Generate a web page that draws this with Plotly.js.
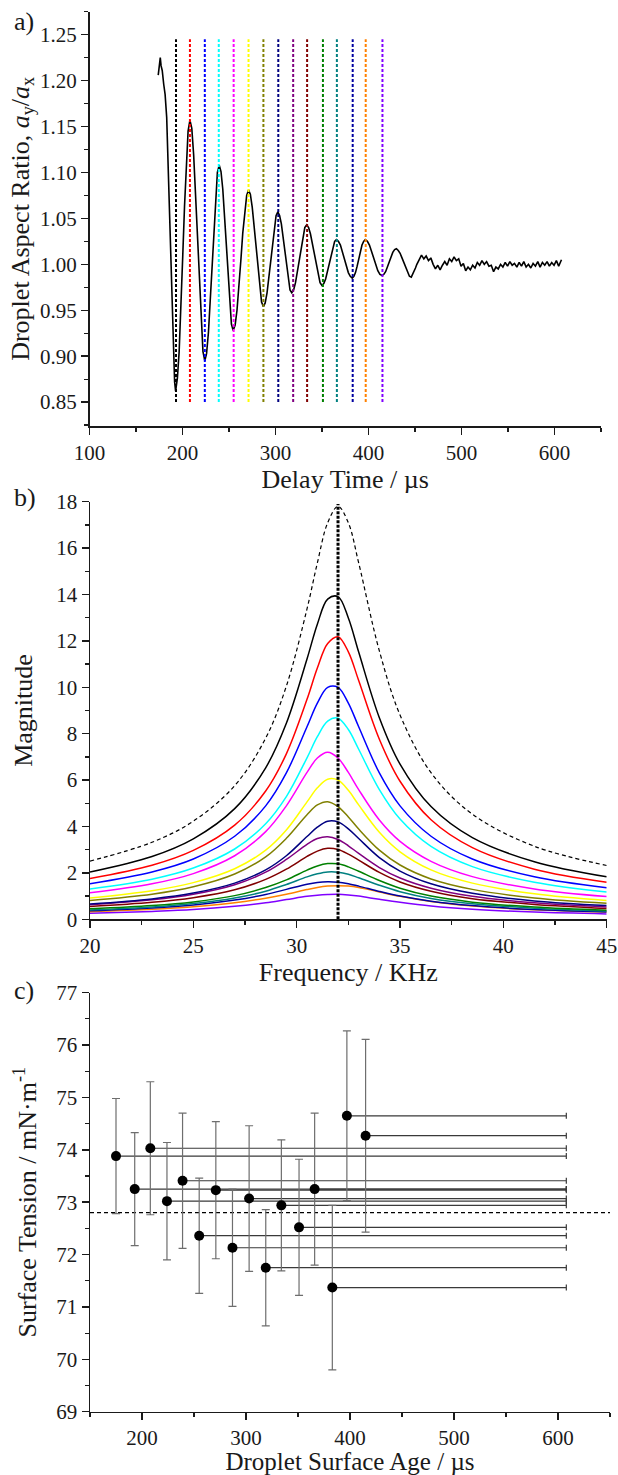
<!DOCTYPE html>
<html><head><meta charset="utf-8">
<script src="https://cdn.plot.ly/plotly-3.0.1.min.js"></script>
<style>html,body{margin:0;padding:0;background:#fff}#chart{width:618px;height:1475px}</style>
</head><body><div id="chart"></div>
<script>
// ---------- Panel a: droplet aspect ratio vs delay time ----------
const A_TIME = [173.9,175.2,176.1,177.0,178.2,179.8,181.3,183.0,184.7,186.5,188.3,190.1,191.5,192.6,
194.5,196.4,198.3,200.3,202.2,204.1,206.0,208.0,
210.0,212.0,214.0,216.0,218.0,220.0,222.0,224.0,
225.9,227.9,229.8,231.8,233.7,235.6,237.5,239.5,
241.4,243.3,245.1,247.0,248.9,250.8,252.6,254.5,
256.6,258.6,260.7,262.8,264.8,266.9,269.0,271.0,
273.0,275.0,277.0,279.0,281.0,283.0,285.0,287.0,
288.9,290.9,292.8,294.8,296.7,298.6,300.6,302.5,
304.4,306.3,308.1,310.0,311.9,313.8,315.6,317.5,
319.5,321.5,323.5,325.5,327.5,329.5,331.5,333.5,
335.6,337.6,339.7,341.8,343.8,345.9,347.9,350.0,
351.9,353.9,355.8,357.8,359.7,361.6,363.6,365.5,
367.6,369.8,371.9,374.0,376.1,378.3,380.4,382.5,
384.3,386.0,387.8,389.5,391.3,393.0,394.8,396.5,
398.8,401.0,403.3,405.5,407.8,410.0,412.3,414.5,
416.4,418.4,420.3,422.3,424.2,426.1,428.1,430.0,
432.0,434.0,436.0,438.0,440.0,442.0,444.0,446.0,
447.5,449.0,450.5,452.0,454.5,457.0,
459.5,462,464.5,467,469.5,472,474.5,477,479.5,482,484.5,487,489.5,492,494.5,497,499.5,502,504.5,507,509.5,
512,514.5,517,519.5,522,524.5,527,529.5,532,534.5,537,539.5,542,544.5,547,549.5,552,554.5,557,559.5,562,
564.5,567,569.5,572,574.5,577,579.5,582,584.5,587,589.5,592,594.5,597,599.5,602,604.5,607.5];
const A_RATIO = [1.206,1.221,1.225,1.216,1.211,1.196,1.185,1.160,1.103,1.040,0.970,0.906,0.872,0.862,
0.876,0.905,0.950,1.010,1.064,1.114,1.145,1.157,
1.148,1.119,1.075,1.026,0.977,0.933,0.905,0.895,
0.903,0.926,0.960,1.002,1.043,1.077,1.100,1.108,
1.101,1.082,1.052,1.018,0.984,0.954,0.935,0.928,
0.934,0.950,0.975,1.005,1.034,1.059,1.075,1.081,
1.076,1.062,1.041,1.018,0.994,0.973,0.959,0.954,
0.958,0.969,0.986,1.006,1.025,1.042,1.053,1.057,
1.053,1.044,1.030,1.013,0.996,0.982,0.972,0.969,
0.972,0.980,0.992,1.006,1.020,1.032,1.040,1.043,
1.040,1.033,1.022,1.010,0.998,0.987,0.980,0.977,
0.979,0.984,0.992,1.002,1.012,1.020,1.025,1.027,
1.025,1.021,1.014,1.006,0.998,0.991,0.987,0.985,
0.987,0.991,0.998,1.006,1.014,1.021,1.025,1.027,
1.025,1.021,1.014,1.007,0.999,0.993,0.989,0.988,
0.989,0.992,0.997,1.003,1.008,1.013,1.016,1.017,
1.015,1.012,1.007,1.002,0.996,0.990,0.987,0.986,
0.989,0.992,0.996,1.000,1.006,1.010,
1.006,1.009,1.004,1.007,1.000,0.995,0.999,0.994,0.999,1.003,0.999,1.006,1.003,1.008,1.004,1.006,0.998,1.001,0.993,0.997,0.994,
0.999,0.996,1.002,0.999,1.004,1.000,1.003,0.998,0.999,0.992,0.997,0.995,1.000,0.997,1.002,0.998,1.003,0.999,1.001,0.997,1.002,
0.998,1.003,0.997,1.000,0.996,1.001,0.998,1.003,0.997,1.002,0.999,1.003,0.998,1.002,0.999,1.004,0.998,1.005];
const MARK_TIMES = [193,208,224,239,255,271,287,303,319,334,351,366,383,397,415];
const MARK_RANGE = [0.85,1.245];
const MODE_COLORS = ['#000000','#ff0000','#0000ff','#00ffff','#ff00ff','#ffff00','#808000','#000080',
                     '#800080','#800000','#008000','#008080','#0000a0','#ff8000','#8000ff'];

// ---------- Panel b: magnitude spectra ----------
const FREQ = [20,23,25,27,28.5,29.5,30.5,31,31.5,32,32.5,33,34,35,36.5,38.5,41.5,45];
const MAG_SUM    = [2.51,3.32,4.23,5.76,7.81,10.05,13.38,15.36,17.09,17.80,17.09,15.36,11.57,8.81,6.32,4.53,3.15,2.32];
const MAG_BLACK  = [2.04,2.71,3.47,4.77,6.53,8.45,11.22,12.72,13.80,13.91,12.99,11.52,8.69,6.69,4.86,3.52,2.48,1.83];
const MAG_RED    = [1.76,2.33,2.97,4.06,5.53,7.13,9.48,10.83,11.89,12.18,11.53,10.29,7.76,5.95,4.29,3.09,2.16,1.60];
const MAG_BLUE   = [1.53,2.04,2.60,3.58,4.89,6.31,8.30,9.32,10.00,10.00,9.32,8.30,6.31,4.89,3.58,2.60,1.83,1.36];
const MAG_CYAN   = [1.31,1.73,2.21,3.03,4.12,5.29,6.96,7.87,8.54,8.67,8.18,7.33,5.59,4.32,3.14,2.27,1.60,1.18];
const MAG_MAGENTA= [1.14,1.53,1.97,2.74,3.78,4.89,6.33,6.95,7.20,6.95,6.33,5.59,4.28,3.36,2.50,1.84,1.31,0.98];
const MAG_YELLOW = [0.92,1.23,1.58,2.18,2.98,3.85,5.06,5.67,6.04,6.00,5.56,4.93,3.75,2.91,2.13,1.56,1.10,0.81];
const MAG_OLIVE  = [0.81,1.08,1.40,1.95,2.69,3.49,4.51,4.93,5.07,4.86,4.41,3.89,2.98,2.34,1.74,1.29,0.92,0.69];
const MAG_NAVY   = [0.66,0.88,1.13,1.56,2.13,2.74,3.57,3.97,4.23,4.20,3.90,3.48,2.66,2.08,1.53,1.12,0.79,0.59];
const MAG_PURPLE = [0.63,0.84,1.08,1.49,2.03,2.58,3.23,3.48,3.56,3.44,3.17,2.84,2.23,1.78,1.34,0.99,0.71,0.53];
const MAG_WINE   = [0.55,0.73,0.93,1.27,1.72,2.16,2.71,2.94,3.06,3.01,2.81,2.55,2.02,1.61,1.21,0.89,0.64,0.47];
const MAG_GREEN  = [0.45,0.59,0.75,1.02,1.37,1.70,2.12,2.30,2.40,2.39,2.26,2.07,1.67,1.34,1.00,0.74,0.53,0.39];
const MAG_TEAL   = [0.40,0.53,0.68,0.92,1.21,1.50,1.83,1.96,2.04,2.03,1.94,1.79,1.47,1.19,0.90,0.67,0.48,0.36];
const MAG_ROYAL  = [0.37,0.49,0.62,0.83,1.07,1.29,1.51,1.59,1.62,1.60,1.53,1.43,1.20,1.00,0.78,0.59,0.42,0.32];
const MAG_ORANGE = [0.33,0.43,0.54,0.71,0.91,1.08,1.28,1.37,1.43,1.45,1.43,1.37,1.18,0.99,0.77,0.57,0.41,0.31];
const MAG_VIOLET = [0.26,0.34,0.42,0.56,0.71,0.85,0.99,1.04,1.07,1.08,1.05,1.00,0.86,0.73,0.57,0.43,0.31,0.23];
const PEAK_FREQ = 32.0;
const PEAK_RANGE = [0,17.9];

// ---------- Panel c: surface tension vs surface age ----------
const AGE       = [175,193,208,224,239,255,271,287,303,319,334,351,366,383,397,415];
const SIGMA     = [73.88,73.25,74.03,73.02,73.41,72.36,73.23,72.13,73.07,71.75,72.94,72.52,73.25,71.37,74.65,74.27];
const SIGMA_ERR = [1.10,1.08,1.27,1.12,1.29,1.10,1.31,1.12,1.39,1.11,1.25,1.30,1.45,1.57,1.62,1.84];
const AGE_ERR   = [433,415,400,384,369,353,337,321,305,289,274,257,242,225,211,193];
const SIGMA_REF = 72.8;
const AGE_SPAN  = [150,650];

// ---------- layout helpers ----------
const W = 618, H = 1475;
const xd = (l, r) => [l / W, r / W];
const yd = (t, b) => [(H - b) / H, (H - t) / H];
const FONT = 'Liberation Serif, Times New Roman, serif';
const INK = '#1a1a1a';

function axis(extra) {
  const base = {
    showgrid: false, zeroline: false, showline: true, linecolor: INK, linewidth: 1.5,
    ticks: 'outside', ticklen: 7, tickwidth: 1.5, tickcolor: INK,
    tickfont: {family: FONT, size: 21, color: INK},
    fixedrange: true
  };
  return Object.assign(base, extra);
}
function minor(dt) { return {ticks: 'outside', ticklen: 4, tickwidth: 1.2, tickcolor: INK, dtick: dt, showgrid: false}; }
const TFONT = {family: FONT, size: 26, color: INK};
const TFONT_C = {family: FONT, size: 25, color: INK};

const traces = [];
// panel a
traces.push({x: A_TIME, y: A_RATIO, xaxis: 'x', yaxis: 'y', mode: 'lines',
  line: {color: '#000', width: 1.6}, hoverinfo: 'skip'});
MARK_TIMES.forEach((t, i) => traces.push({x: [t, t], y: MARK_RANGE, xaxis: 'x', yaxis: 'y', mode: 'lines',
  line: {color: MODE_COLORS[i], width: 2, dash: '3px,2px'}, hoverinfo: 'skip'}));

// panel b
const MAGS = [MAG_BLACK, MAG_RED, MAG_BLUE, MAG_CYAN, MAG_MAGENTA, MAG_YELLOW, MAG_OLIVE, MAG_NAVY,
              MAG_PURPLE, MAG_WINE, MAG_GREEN, MAG_TEAL, MAG_ROYAL, MAG_ORANGE, MAG_VIOLET];
MAGS.slice().reverse().forEach((m, k) => {
  const i = MAGS.length - 1 - k;
  traces.push({x: FREQ, y: m, xaxis: 'x2', yaxis: 'y2', mode: 'lines',
    line: {color: MODE_COLORS[i], width: 1.5, shape: 'spline', smoothing: 1}, hoverinfo: 'skip'});
});
traces.push({x: FREQ, y: MAG_SUM, xaxis: 'x2', yaxis: 'y2', mode: 'lines',
  line: {color: '#000', width: 1.2, dash: '4px,3px', shape: 'spline', smoothing: 1}, hoverinfo: 'skip'});
traces.push({x: [PEAK_FREQ, PEAK_FREQ], y: PEAK_RANGE, xaxis: 'x2', yaxis: 'y2', mode: 'lines',
  line: {color: '#000', width: 3, dash: '3px,1.5px'}, hoverinfo: 'skip'});

// panel c
traces.push({x: AGE_SPAN, y: [SIGMA_REF, SIGMA_REF], xaxis: 'x3', yaxis: 'y3', mode: 'lines',
  line: {color: '#000', width: 1.2, dash: '4px,3px'}, hoverinfo: 'skip'});
traces.push({x: AGE, y: SIGMA, xaxis: 'x3', yaxis: 'y3', mode: 'markers',
  marker: {color: '#000', size: 10},
  error_y: {type: 'data', array: SIGMA_ERR, visible: true, color: '#6e6e6e', thickness: 1.2, width: 4},
  error_x: {type: 'data', symmetric: false, array: AGE_ERR, arrayminus: AGE.map(() => 0), visible: true,
            color: '#3a3a3a', thickness: 1.2, width: 3},
  hoverinfo: 'skip'});

const layout = {
  width: W, height: H, margin: {l: 0, r: 0, t: 0, b: 0},
  paper_bgcolor: '#fff', plot_bgcolor: '#fff', showlegend: false,
  font: {family: FONT, color: INK},
  xaxis: axis({domain: xd(89.5, 601), anchor: 'y', range: [100, 650], tick0: 0, dtick: 100,
    minor: minor(50), title: {text: 'Delay Time / µs', font: TFONT, standoff: 3}}),
  yaxis: axis({domain: yd(11.7, 426), anchor: 'x', range: [0.824, 1.275], tick0: 0, dtick: 0.05, tickformat: '.2f',
    minor: minor(0.025), title: {text: 'Droplet Aspect Ratio, <i>a</i><sub>y</sub>/<i>a</i><sub>x</sub>',
    font: TFONT, standoff: 3}}),
  xaxis2: axis({domain: xd(90, 606.7), anchor: 'y2', range: [20, 45], tick0: 0, dtick: 5,
    minor: minor(2.5), title: {text: 'Frequency / KHz', font: TFONT, standoff: 3}}),
  yaxis2: axis({domain: yd(501.7, 919.3), anchor: 'x2', range: [0, 18], tick0: 0, dtick: 2,
    minor: minor(1), title: {text: 'Magnitude', font: TFONT, standoff: 16}}),
  xaxis3: axis({domain: xd(90, 610), anchor: 'y3', range: [150, 650], tick0: 0, dtick: 100,
    minor: minor(50), title: {text: 'Droplet Surface Age / µs', font: TFONT_C, standoff: 6}}),
  yaxis3: axis({domain: yd(992.7, 1411.7), anchor: 'x3', range: [69, 77], tick0: 0, dtick: 1,
    minor: minor(0.5), title: {text: 'Surface Tension / mN·m<sup>-1</sup>', font: TFONT, standoff: 12}}),
  annotations: [
    {text: 'a)', xref: 'paper', yref: 'paper', x: 12 / W, y: (H - 22) / H, xanchor: 'left', yanchor: 'middle', showarrow: false, font: TFONT},
    {text: 'b)', xref: 'paper', yref: 'paper', x: 12 / W, y: (H - 497) / H, xanchor: 'left', yanchor: 'middle', showarrow: false, font: TFONT},
    {text: 'c)', xref: 'paper', yref: 'paper', x: 12 / W, y: (H - 990) / H, xanchor: 'left', yanchor: 'middle', showarrow: false, font: TFONT}
  ]
};

Plotly.newPlot('chart', traces, layout, {staticPlot: true, displayModeBar: false});
</script>
</body></html>
